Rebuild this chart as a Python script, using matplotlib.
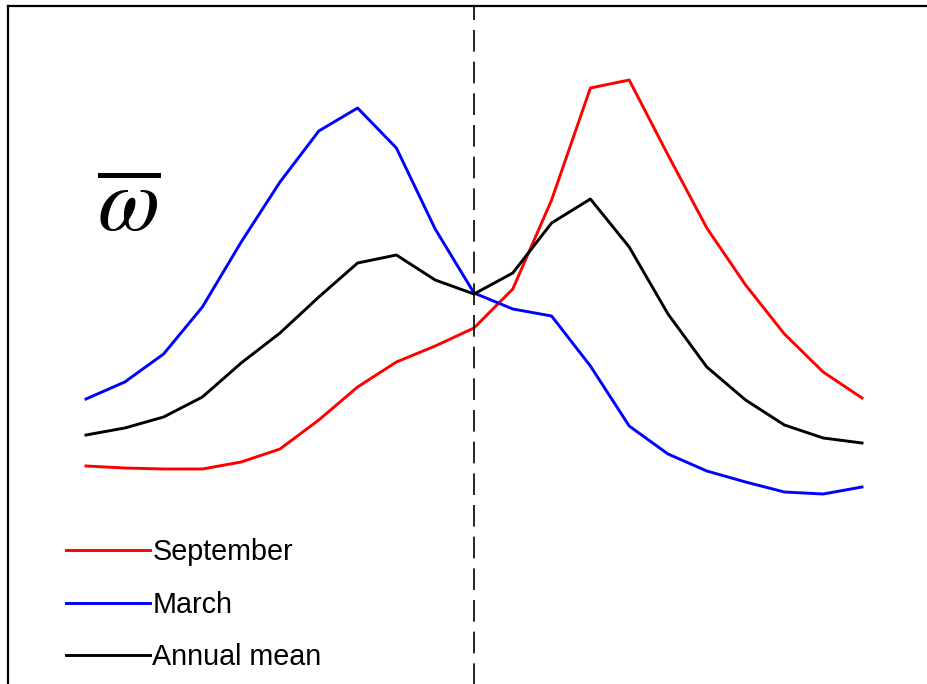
import matplotlib
matplotlib.use('agg')
import numpy as np
import matplotlib.pyplot as plt

plt.rcParams['font.family'] = ['Liberation Sans', 'DejaVu Sans']
plt.rcParams['mathtext.fontset'] = 'stix'

# relative position (steps), 0 = reference line
steps = np.arange(-10, 11)
# omega-bar, arbitrary units
september = [25.4, 25.2, 25.1, 25.1, 25.8, 27.1, 30.0, 33.3, 35.8, 37.4, 39.2,
             43.1, 52.0, 63.2, 64.0, 56.5, 49.2, 43.5, 38.6, 34.8, 32.2]
march = [32.1, 33.8, 36.6, 41.3, 47.8, 53.8, 58.9, 61.2, 57.2, 49.1, 42.7,
         41.1, 40.4, 35.4, 29.4, 26.6, 24.9, 23.8, 22.8, 22.6, 23.3]
annual = [28.5, 29.2, 30.3, 32.3, 35.7, 38.7, 42.3, 45.7, 46.5, 44.0, 42.6,
          44.7, 49.7, 52.1, 47.3, 40.6, 35.3, 32.0, 29.5, 28.2, 27.7]

fig = plt.figure(figsize=(9.27, 6.84), dpi=100)
# axes frame runs off the right and bottom edges of the picture
ax = fig.add_axes([8/927., -36/684., 931.6/927., 714/684.])

l1, = ax.plot(steps, september, color='#ff0000', lw=2.1, label='September')
l2, = ax.plot(steps, march, color='#0000ff', lw=2.1, label='March')
l3, = ax.plot(steps, annual, color='black', lw=2.1, label='Annual mean')
ax.axvline(0, color='black', lw=1.2, dashes=(13, 6))

ax.set_xlim(-12.01, 12.0)
ax.set_ylim(0, 71.4)
ax.set_xticks([])
ax.set_yticks([])
for s in ax.spines.values():
    s.set_linewidth(1.6)

ax.text(121/931.6, 1-201/714., r'$\overline{\omega}$', transform=ax.transAxes,
        fontsize=65, ha='center', va='center')

ax.legend(handles=[l1, l2, l3], loc='lower left', bbox_to_anchor=(58/931.6, 1-665/714.),
          frameon=False, fontsize=20.7, handlelength=2.93, handletextpad=0.07,
          labelspacing=0.85, borderaxespad=0, borderpad=0)

plt.savefig('out.png', dpi=100)
